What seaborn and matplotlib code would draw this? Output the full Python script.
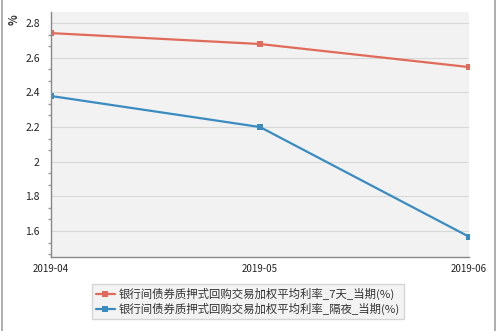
import matplotlib
matplotlib.use("Agg")
import matplotlib.pyplot as plt
from matplotlib.ticker import AutoMinorLocator, FixedLocator
from matplotlib.patches import Rectangle
import seaborn as sns
import pandas as pd

months = ["2019-04", "2019-05", "2019-06"]
rate_7d = [2.742, 2.679, 2.546]
rate_overnight = [2.379, 2.200, 1.567]
series_names = ["银行间债券质押式回购交易加权平均利率_7天_当期(%)",
                "银行间债券质押式回购交易加权平均利率_隔夜_当期(%)"]
y_ticks = [1.6, 1.8, 2.0, 2.2, 2.4, 2.6, 2.8]
y_tick_labels = ["1.6", "1.8", "2", "2.2", "2.4", "2.6", "2.8"]

sns.set_style("white")
plt.rcParams['font.family'] = ['Noto Sans CJK SC', 'DejaVu Sans']

df = pd.DataFrame({
    "month": months * 2,
    "x": list(range(len(months))) * 2,
    "value": rate_7d + rate_overnight,
    "series": [series_names[0]] * 3 + [series_names[1]] * 3,
})

fig = plt.figure(figsize=(5.0, 3.31), dpi=100)
fig.patch.set_facecolor("white")
fig.add_artist(Rectangle((0.004, -0.01), 0.985, 1.05, transform=fig.transFigure,
                         fill=False, edgecolor="#a0a0a0", linewidth=1.2))

ax = fig.add_axes([0.102, 0.2236, 0.836, 0.740])
ax.set_facecolor("#f2f2f2")

colors = ["#e06b5a", "#3a8cc0"]
sns.lineplot(data=df, x="x", y="value", hue="series", palette=colors,
             marker="s", markersize=4.5, markeredgewidth=0, linewidth=1.6,
             ax=ax, legend=True)

ax.set_xlim(0, 2)
ax.set_ylim(1.45, 2.8635)
ax.set_xticks(range(len(months)))
ax.set_xticklabels(months, fontsize=7, color="#222222")
ax.yaxis.set_major_locator(FixedLocator(y_ticks))
ax.set_yticklabels(y_tick_labels, fontsize=7.5, color="#222222")
ax.yaxis.set_minor_locator(AutoMinorLocator(3))
ax.tick_params(axis="y", which="major", length=4, width=1, color="#888888", direction="out", pad=4)
ax.tick_params(axis="y", which="minor", length=2.5, width=1, color="#999999", direction="out", left=True)
ax.tick_params(axis="x", which="major", length=5, color="#888888", direction="in", pad=5)
ax.grid(axis="y", which="major", color="#d8d8d8", linewidth=0.8)
ax.set_axisbelow(True)
for side in ["top", "right"]:
    ax.spines[side].set_visible(False)
ax.spines["left"].set_color("#888888")
ax.spines["bottom"].set_color("#888888")
ax.spines["left"].set_linewidth(1.0)
ax.spines["bottom"].set_linewidth(1.0)
ax.set_xlabel("")
ax.set_ylabel("")
fig.text(0.028, 0.94, "%", rotation=90, fontsize=8, fontweight="bold",
         color="#333333", ha="center", va="center")

handles, labels = ax.get_legend_handles_labels()
leg = ax.legend(handles, labels, loc="upper center", bbox_to_anchor=(0.472, -0.085),
                ncol=1, fontsize=8.2, frameon=True, fancybox=False,
                handlelength=1.6, borderpad=0.35, labelspacing=0.3,
                handletextpad=0.4, edgecolor="#cccccc")
leg.get_frame().set_facecolor("#f0f0f0")
leg.get_frame().set_linewidth(1.0)
for t in leg.get_texts():
    t.set_color("#333333")

fig.savefig("out.png", dpi=100)
